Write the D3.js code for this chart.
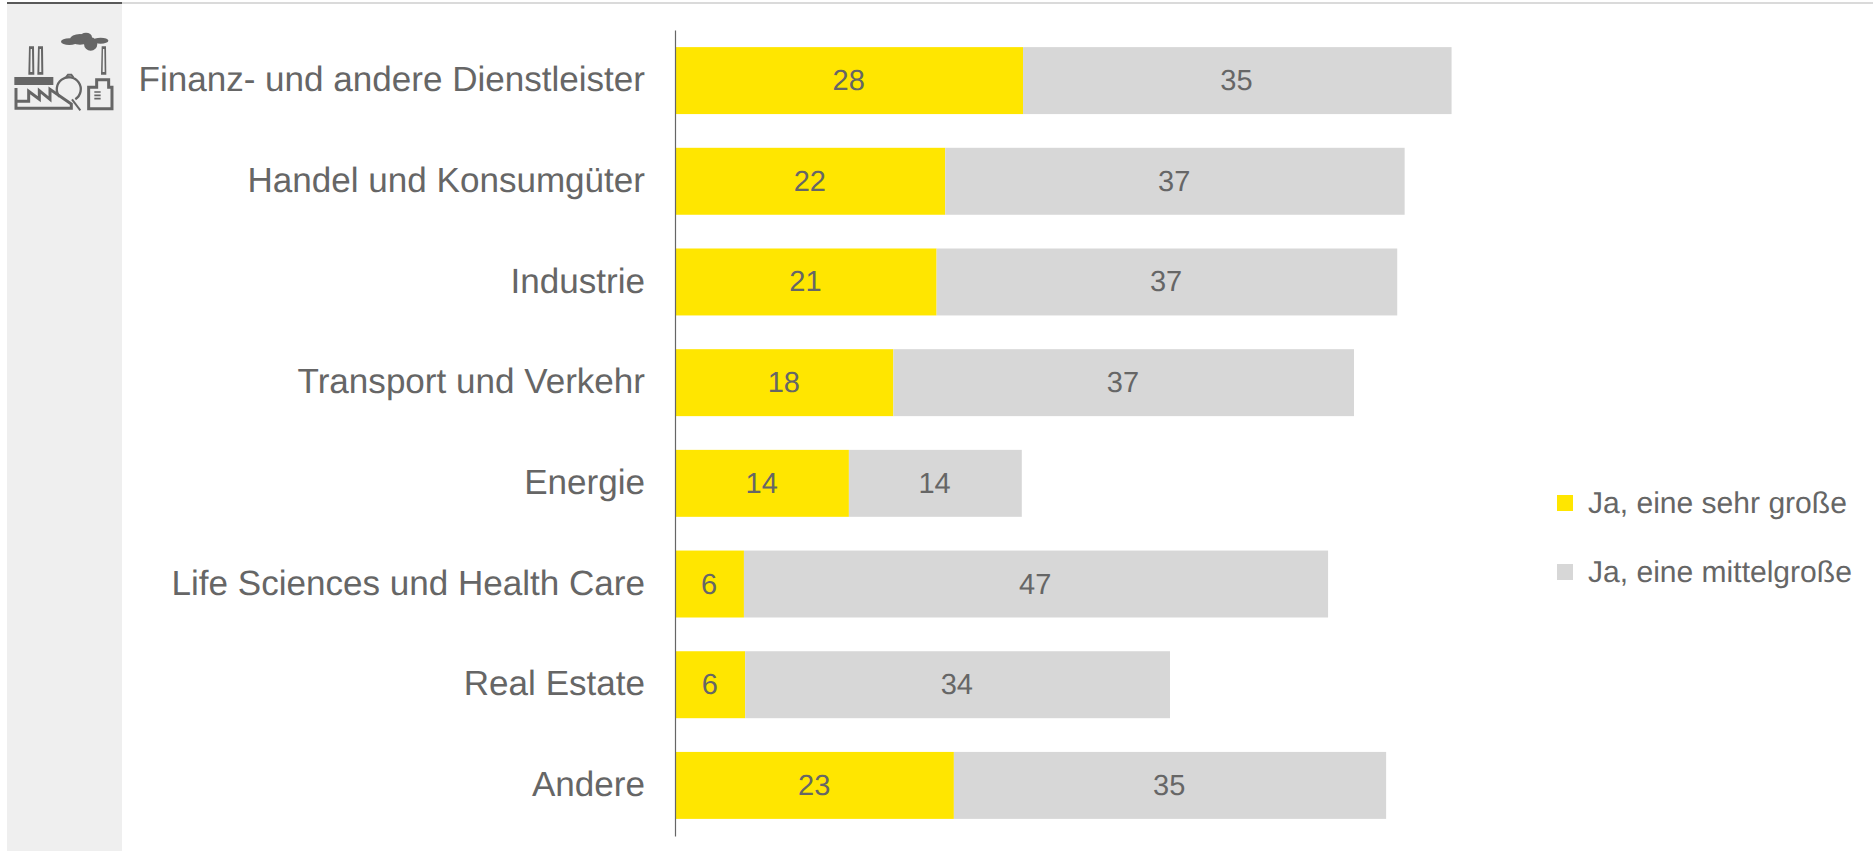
<!DOCTYPE html>
<html lang="de">
<head>
<meta charset="utf-8">
<title>Chart</title>
<script src="https://cdn.jsdelivr.net/npm/d3@7"></script>
<style>
    html, body { margin: 0; padding: 0; background: #fff; overflow: hidden; }
    svg { display: block; }
    text { font-family: "Liberation Sans", Arial, sans-serif; fill: #666; text-rendering: geometricPrecision; }
    .y.axis text { font-size: 35.05px; }
    .value { font-size: 29px; }
    .legend text { font-size: 30.05px; }
</style>
</head>
<body>
<div id="chart-area"></div>
<script>
const categories = [
    'Finanz- und andere Dienstleister',
    'Handel und Konsumgüter',
    'Industrie',
    'Transport und Verkehr',
    'Energie',
    'Life Sciences und Health Care',
    'Real Estate',
    'Andere'
];
const seriesNames = ['Ja, eine sehr große', 'Ja, eine mittelgroße'];
const sehrGross = [28.1, 21.8, 21.1, 17.6, 14.0, 5.5, 5.6, 22.5];
const mittelGross = [34.7, 37.2, 37.3, 37.3, 14.0, 47.3, 34.4, 35.0];
const colors = ['#FFE600', '#D7D7D7'];

const WIDTH = 1873;
const HEIGHT = 851;
const AXIS_X = 676;

const svg = d3.select('#chart-area')
    .append('svg')
    .attr('width', WIDTH)
    .attr('height', HEIGHT);

// side panel and top rule
svg.append('rect').attr('x', 7).attr('y', 3).attr('width', 115).attr('height', HEIGHT - 3).attr('fill', '#EFEFEF');
svg.append('rect').attr('x', 122).attr('y', 2).attr('width', WIDTH - 122).attr('height', 2).attr('fill', '#DADADA');
svg.append('rect').attr('x', 7).attr('y', 2).attr('width', 115).attr('height', 2).attr('fill', '#595959');

// factory icon, coordinates taken from the 3x zoom
const icon = svg.append('g').attr('transform', 'scale(0.3333)').attr('fill', '#666').attr('stroke', 'none');
[[208, 125, 25, 10], [240, 118, 30, 16], [258, 112, 18, 14], [272, 132, 20, 20], [302, 122, 23, 9]].forEach(e => {
    icon.append('ellipse').attr('cx', e[0]).attr('cy', e[1]).attr('rx', e[2]).attr('ry', e[3]);
});
icon.append('path')
    .attr('fill-rule', 'evenodd')
    .attr('d', 'M85 224L87 139H102L103 224ZM92 147L91 216H97L96 147Z M112 224L114 139H129L130 224ZM119 147L118 216H124L123 147Z M303 224L305 139H318L319 224ZM309 147L308 216H314L313 147Z');
icon.append('rect').attr('x', 43).attr('y', 231).attr('width', 117).attr('height', 24);
const lines = icon.append('g').attr('fill', 'none').attr('stroke', '#666').attr('stroke-width', 9);
lines.append('path').attr('d', 'M48 264V325H214V312L150 268V298L118 272V298L86 274V304H50').attr('stroke-linejoin', 'miter');
lines.append('path').attr('stroke-width', 7).attr('d', 'M178 290A36 36 0 1 1 226 298');
lines.append('path').attr('stroke-width', 6).attr('d', 'M198 232L204 224H214L220 232');
lines.append('path').attr('stroke-width', 6).attr('d', 'M216 298L241 331');
lines.append('path').attr('d', 'M266 326V262H290V239H326V262H336V326Z');
lines.append('path').attr('stroke-width', 5).attr('d', 'M283 276H302M283 286H302M283 296H302');

const x = d3.scaleLinear()
    .domain([0, 80])
    .range([AXIS_X, AXIS_X + 80 * 12.35]);

const y = d3.scaleBand()
    .domain(categories)
    .range([30, 836])
    .paddingInner(0.335)
    .paddingOuter(0.17);

const rows = categories.map((c, i) => ({ category: c, values: [sehrGross[i], mittelGross[i]] }));

const stack = d3.stack().keys([0, 1]).value((d, k) => d.values[k]);
const stacked = stack(rows);

const fmt = d3.format('.0f');

stacked.forEach((layer, k) => {
    svg.append('g').selectAll('rect')
        .data(layer)
        .enter().append('rect')
        .attr('x', d => x(d[0]))
        .attr('y', d => y(d.data.category))
        .attr('width', d => x(d[1]) - x(d[0]))
        .attr('height', y.bandwidth())
        .attr('fill', colors[k]);

    svg.append('g').selectAll('text')
        .data(layer)
        .enter().append('text')
        .attr('class', 'value')
        .attr('x', d => (x(d[0]) + x(d[1])) / 2 - 0.8)
        .attr('y', d => y(d.data.category) + y.bandwidth() / 2 + 9.5)
        .attr('text-anchor', 'middle')
        .text(d => fmt(d[1] - d[0]));
});

// category axis
const yAxisCall = d3.axisLeft(y).tickSize(0).tickPadding(30);
const yAxisGroup = svg.append('g')
    .attr('class', 'y axis')
    .attr('transform', `translate(${AXIS_X - 1},0)`)
    .call(yAxisCall);
yAxisGroup.select('.domain').attr('stroke', '#666').attr('stroke-width', 1.2);
yAxisGroup.selectAll('text').attr('dy', '0.33em').attr('transform', 'translate(0,-1)');
yAxisGroup.attr('font-family', null).attr('font-size', null);

// legend
const legend = svg.append('g').attr('class', 'legend');
const legendY = d3.scalePoint().domain(seriesNames).range([503, 572]);
seriesNames.forEach((name, k) => {
    legend.append('rect')
        .attr('x', 1557)
        .attr('y', legendY(name) - 8)
        .attr('width', 16)
        .attr('height', 16)
        .attr('fill', colors[k]);
    legend.append('text')
        .attr('x', 1588)
        .attr('y', legendY(name) + 10)
        .text(name);
});
</script>
</body>
</html>
